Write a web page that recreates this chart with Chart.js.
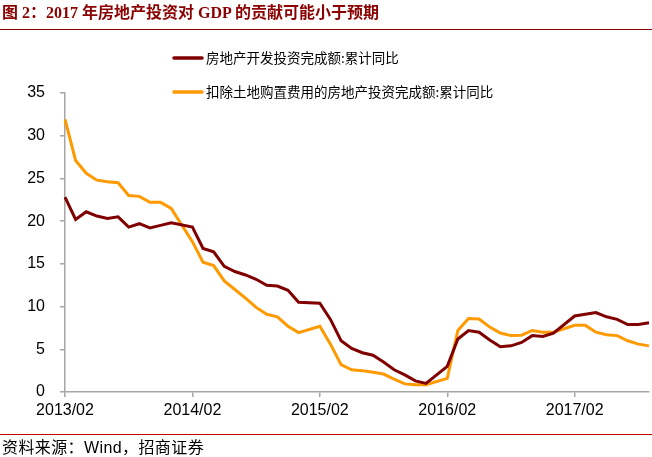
<!DOCTYPE html>
<html>
<head>
<meta charset="utf-8">
<script src="https://cdn.jsdelivr.net/npm/chart.js@4"></script>
<style>
  html, body { margin: 0; padding: 0; background: #fff; }
  body { width: 652px; height: 457px; position: relative; overflow: hidden; }
  #title { position: absolute; left: 2px; top: 3px; font-family: "Liberation Serif", "Noto Sans CJK SC", serif; font-weight: bold; font-size: 16px; color: #8B0000; white-space: nowrap; line-height: 20px; }
  #tline { position: absolute; left: 0; top: 29px; width: 652px; height: 1px; background: #8B0000; }
  #fline { position: absolute; left: 0; top: 434px; width: 652px; height: 1px; background: #C00000; }
  #foot { position: absolute; left: 2px; top: 438px; font-family: "Liberation Sans", "Noto Sans CJK SC", sans-serif; font-size: 16px; letter-spacing: 0.4px; color: #000; white-space: nowrap; line-height: 19px; }
  #wrap { position: absolute; left: 0; top: 0; width: 652px; height: 457px; }
</style>
</head>
<body>
<div id="wrap"><canvas id="c" width="652" height="457"></canvas></div>
<div id="title">图 2：2017 年房地产投资对 GDP 的贡献可能小于预期</div>
<div id="tline"></div>
<div id="fline"></div>
<div id="foot">资料来源：Wind，招商证券</div>
<script>
const years = ['2013', '2014', '2015', '2016', '2017'];
const months = ['01','02','03','04','05','06','07','08','09','10','11','12'];
const startMonth = '2013/02';
const endMonth = '2017/09';

const seriesNames = ['房地产开发投资完成额:累计同比', '扣除土地购置费用的房地产投资完成额:累计同比'];

// monthly cumulative YoY (%), January not published (null)
const investTotal = [
  22.8, 20.2, 21.1, 20.6, 20.3, 20.5, 19.3, 19.7, 19.2, 19.5, 19.8,
  null, 19.3, 16.8, 16.4, 14.7, 14.1, 13.7, 13.2, 12.5, 12.4, 11.9, 10.5,
  null, 10.4, 8.5, 6.0, 5.1, 4.6, 4.3, 3.5, 2.6, 2.0, 1.3, 1.0,
  null, 3.0, 6.2, 7.2, 7.0, 6.1, 5.3, 5.4, 5.8, 6.6, 6.5, 6.9,
  null, 8.9, 9.1, 9.3, 8.8, 8.5, 7.9, 7.9, 8.1
];
const investExLand = [
  31.9, 27.1, 25.6, 24.8, 24.6, 24.5, 23.0, 22.9, 22.2, 22.2, 21.5,
  null, 17.6, 15.2, 14.8, 13.0, 12.0, 11.0, 9.9, 9.1, 8.8, 7.7, 6.95,
  null, 7.7, 5.6, 3.2, 2.6, 2.5, 2.3, 2.1, 1.5, 0.95, 0.85, 0.85,
  null, 1.6, 7.2, 8.6, 8.55, 7.6, 6.9, 6.6, 6.65, 7.2, 7.0, 7.0,
  null, 7.8, 7.8, 7.0, 6.7, 6.6, 6.0, 5.6, 5.4
];
const yTicks = [0, 5, 10, 15, 20, 25, 30, 35];
const xTickLabels = ['2013/02', '2014/02', '2015/02', '2016/02', '2017/02'];

const categories = [];
for (const y of years) for (const m of months) {
  const l = y + '/' + m;
  if (l >= startMonth && l <= endMonth) categories.push(l);
}

const colors = ['#800000', '#FF9900'];

const legendPlugin = {
  id: 'customLegend',
  afterDraw(chart) {
    const ctx = chart.ctx;
    const rows = [58, 92];
    ctx.save();
    chart.data.datasets.forEach((ds, i) => {
      const y = rows[i];
      ctx.strokeStyle = ds.borderColor;
      ctx.lineWidth = 3.5;
      ctx.lineCap = 'round';
      ctx.beginPath();
      ctx.moveTo(174, y);
      ctx.lineTo(202, y);
      ctx.stroke();
      ctx.fillStyle = '#000';
      ctx.font = '13.5px "Noto Sans CJK SC", sans-serif';
      ctx.textBaseline = 'middle';
      ctx.textAlign = 'left';
      ctx.fillText(ds.label, 206, y);
    });
    ctx.restore();
  }
};

new Chart(document.getElementById('c'), {
  type: 'line',
  data: {
    labels: categories,
    datasets: [
      { label: seriesNames[0], data: investTotal, borderColor: colors[0], backgroundColor: colors[0], borderWidth: 3, pointRadius: 0, tension: 0, spanGaps: true },
      { label: seriesNames[1], data: investExLand, borderColor: colors[1], backgroundColor: colors[1], borderWidth: 3, pointRadius: 0, tension: 0, spanGaps: true }
    ]
  },
  options: {
    responsive: false,
    animation: false,
    layout: { padding: { left: 0, right: 3, top: 93, bottom: 0 } },
    plugins: { legend: { display: false }, tooltip: { enabled: false } },
    scales: {
      x: {
        type: 'category',
        offset: false,
        afterFit(s) { s.height = 65; },
        grid: { display: true, drawOnChartArea: false, drawTicks: true, tickLength: 5, color: '#A6A6A6', lineWidth: 1.5 },
        border: { display: true, color: '#A6A6A6', width: 1.5 },
        ticks: {
          autoSkip: false, maxRotation: 0, minRotation: 0, padding: 4,
          color: '#000', font: { family: '"Liberation Sans", Arial, sans-serif', size: 16 },
          callback(v) { const l = this.getLabelForValue(v); return xTickLabels.includes(l) ? l : null; }
        }
      },
      y: {
        min: 0, max: 35,
        afterFit(s) { s.width = 65; },
        afterBuildTicks(s) { s.ticks = yTicks.map(v => ({ value: v })); },
        grid: { display: true, drawOnChartArea: false, drawTicks: true, tickLength: 5, color: '#A6A6A6', lineWidth: 1.5 },
        border: { display: true, color: '#A6A6A6', width: 1.5 },
        ticks: { padding: 15, color: '#000', font: { family: '"Liberation Sans", Arial, sans-serif', size: 16 } }
      }
    }
  },
  plugins: [legendPlugin]
});
</script>
</body>
</html>
